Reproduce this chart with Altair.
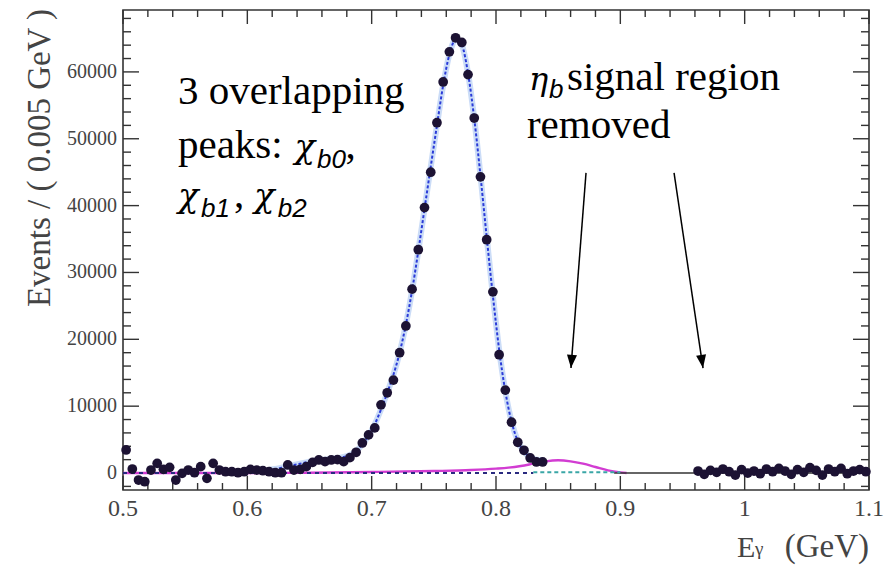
import altair as alt
import pandas as pd

# ---------------- data ----------------
bins_left = [round(0.5025 + 0.005 * i, 4) for i in range(68)]
counts_left = [3450, 600, -1050, -1300, 450, 1450, 550, 850, -1050, -50,
               450, 50, 950, -800, 1450, 450, 200, 200, 50, 200,
               550, 450, 350, 200, 50, 50, 1200, 450, 550, 950,
               1600, 1950, 1700, 1950, 2000, 1700, 2300, 3100, 4500, 5700,
               6750, 10200, 12000, 13900, 18000, 22000, 27500, 33400, 39700, 45000,
               52400, 58500, 63000, 65100, 64400, 59600, 53100, 44300, 34900, 27100,
               17700, 12400, 7600, 4600, 3400, 2250, 1650, 1650]
bins_right = [round(0.9625 + 0.005 * i, 4) for i in range(28)]
counts_right = [300, -200, 400, 100, 600, 200, -300, 500, 0, 300,
                -100, 600, 200, 700, 300, -200, 500, 100, 800, 400,
                -300, 600, 200, 700, -100, 300, 500, 200]

fit_x = [round(0.6175 + 0.005 * i, 4) for i in range(45)]
fit_y = [500, 600, 800, 1000, 1200, 1400, 1600, 1800, 1900, 2000,
         2100, 2200, 2400, 2700, 3300, 4300, 5600, 7300, 9500, 12000,
         14700, 18000, 22200, 27300, 33200, 39500, 45800, 52000, 58000, 62600,
         64800, 64000, 59800, 53000, 44500, 35300, 26500, 18500, 12200, 7700,
         4800, 3200, 2400, 2000, 1900]

mag_x = [0.50, 0.60, 0.65, 0.70, 0.75, 0.78, 0.80, 0.81, 0.82, 0.83,
         0.84, 0.85, 0.86, 0.87, 0.88, 0.89, 0.90, 0.905]
mag_y = [0, 0, 50, 150, 300, 450, 650, 800, 1050, 1400,
         1750, 1900, 1750, 1400, 900, 400, 100, 0]

bkg_x = [0.50, 0.83]
bkg_y = [0, 0]
cyan_x = [0.83, 0.90]
cyan_y = [100, 100]
base_x = [0.895, 1.10]
base_y = [0, 0]

x_major = [0.5, 0.6, 0.7, 0.8, 0.9, 1.0, 1.1]
x_minor = [round(0.5 + 0.02 * i, 2) for i in range(31) if i % 5]
y_major = [0, 10000, 20000, 30000, 40000, 50000, 60000]
y_minor = [v for v in range(-2000, 69001, 2000) if v % 10000]

# annotation anchors (data coordinates)
arrow_top = [(0.8724, 44900), (0.9432, 44900)]
arrow_tip = [(0.8603, 15700), (0.9665, 15700)]

serif_txt = [("3 overlapping", 0.5442, 55200), ("peaks:", 0.5442, 47100),
             ("signal region", 0.8571, 57300), ("removed", 0.8249, 50100),
             (",", 0.6790, 47100), (",", 0.5893, 39800)]
chi_txt = [("χ", 0.6380, 47100), ("χ", 0.6054, 39800), ("χ", 0.5442, 39800)]
sub_txt = [("b0", 0.6560, 45600), ("b1", 0.5627, 38300), ("b2", 0.6245, 38300),
           ("b", 0.8426, 56100)]
eta_txt = [("η", 0.8265, 57300)]

XMIN, XMAX = 0.5, 1.1
YMIN, YMAX = -2540, 69260
W, H = 746, 480

# ---------------- frames ----------------
pts = pd.DataFrame({"x": bins_left + bins_right, "y": counts_left + counts_right})
fit = pd.DataFrame({"x": fit_x, "y": fit_y})
mag = pd.DataFrame({"x": mag_x, "y": mag_y})
bkg = pd.DataFrame({"x": bkg_x, "y": bkg_y})
cyan = pd.DataFrame({"x": cyan_x, "y": cyan_y})
base = pd.DataFrame({"x": base_x, "y": base_y})

xmaj_df = pd.DataFrame({"v": x_major, "lab": [f"{v:g}" for v in x_major]})
xmin_df = pd.DataFrame({"v": x_minor})
ymaj_df = pd.DataFrame({"v": y_major, "lab": [str(v) for v in y_major]})
ymin_df = pd.DataFrame({"v": y_minor})

arrows = pd.DataFrame({
    "x": [a[0] for a in arrow_top], "y": [a[1] for a in arrow_top],
    "xe": [a[0] for a in arrow_tip], "ye": [a[1] for a in arrow_tip],
    "ang": [4.4, 351.5],
})

def tdf(lst):
    return pd.DataFrame(lst, columns=["t", "x", "y"])

# ---------------- encodings (all guides drawn as marks) ----------------
xsc = alt.Scale(domain=[XMIN, XMAX], nice=False, zero=False)
ysc = alt.Scale(domain=[YMIN, YMAX], nice=False, zero=False)

def X(f="x"):
    return alt.X(f"{f}:Q", scale=xsc, axis=None)

def Y(f="y"):
    return alt.Y(f"{f}:Q", scale=ysc, axis=None)

TC = "#333"
# inward ticks: position from the data scale, length in pixels from the frame edge
def vticks(df, L):
    bottom = alt.Chart(df).mark_rule(color=TC, strokeWidth=1.4).encode(
        x=X("v"), y=alt.value(H), y2=alt.value(H - L))
    top = alt.Chart(df).mark_rule(color=TC, strokeWidth=1.4).encode(
        x=X("v"), y=alt.value(0), y2=alt.value(L))
    return [bottom, top]

def hticks(df, L):
    left = alt.Chart(df).mark_rule(color=TC, strokeWidth=1.4).encode(
        y=Y("v"), x=alt.value(0), x2=alt.value(L))
    right = alt.Chart(df).mark_rule(color=TC, strokeWidth=1.4).encode(
        y=Y("v"), x=alt.value(W - L), x2=alt.value(W))
    return [left, right]

tick_layers = vticks(xmaj_df, 14) + vticks(xmin_df, 7) + hticks(ymaj_df, 16) + hticks(ymin_df, 8)

xlabels = alt.Chart(xmaj_df).mark_text(font="Liberation Serif", fontSize=24, color="#444",
                                       align="center", baseline="top").encode(
    x=X("v"), y=alt.value(H + 7), text="lab:N")
ylabels = alt.Chart(ymaj_df).mark_text(font="Liberation Serif", fontSize=20, color="#444",
                                       align="right", baseline="middle").encode(
    y=Y("v"), x=alt.value(-6), text="lab:N")

mag_layer = alt.Chart(mag).mark_line(color="#d23cd2", strokeWidth=2.4,
                                     interpolate="monotone").encode(x=X(), y=Y())
base_layer = alt.Chart(base).mark_line(color="#333", strokeWidth=1.5).encode(x=X(), y=Y())
bkg_layer = alt.Chart(bkg).mark_line(color="#2a2a80", strokeWidth=2, strokeDash=[4, 4]).encode(x=X(), y=Y())
cyan_layer = alt.Chart(cyan).mark_line(color="#3aa6a6", strokeWidth=2, strokeDash=[4, 3]).encode(x=X(), y=Y())
halo_layer = alt.Chart(fit).mark_line(color="#a9c4f2", strokeWidth=6, opacity=0.6,
                                      interpolate="monotone").encode(x=X(), y=Y())
fit_layer = alt.Chart(fit).mark_line(color="#2a3bd8", strokeWidth=2, strokeDash=[3, 2],
                                     interpolate="monotone").encode(x=X(), y=Y())
pt_layer = alt.Chart(pts).mark_circle(color="#1c1233", size=95, opacity=1).encode(x=X(), y=Y())

shaft = alt.Chart(arrows).mark_rule(color="black", strokeWidth=1.5).encode(
    x=X(), y=Y(), x2="xe:Q", y2="ye:Q")
head = alt.Chart(arrows).mark_point(shape="M0,0L-0.38,-1L0.38,-1Z", filled=True, size=700,
                                    color="black", opacity=1).encode(
    x=X("xe"), y=Y("ye"), angle=alt.Angle("ang:Q", scale=None))

def txt(lst, font, size, style="normal"):
    return alt.Chart(tdf(lst)).mark_text(font=font, fontSize=size, fontStyle=style,
                                         align="left", baseline="alphabetic",
                                         color="black").encode(x=X(), y=Y(), text="t:N")

serif_layer = txt(serif_txt, "Liberation Serif", 41)
chi_layer = txt(chi_txt, "DejaVu Serif", 34, "italic")
sub_layer = txt(sub_txt, "Liberation Sans", 26, "italic")
eta_layer = txt(eta_txt, "DejaVu Serif", 32, "italic")

# axis titles
ytitle = alt.Chart(pd.DataFrame({"t": ["Events / ( 0.005 GeV )"]})).mark_text(
    font="Liberation Serif", fontSize=33, angle=270, align="center", baseline="alphabetic",
    color="#444").encode(text="t:N", x=alt.value(-73), y=alt.value(148))
xt_e = alt.Chart(pd.DataFrame({"t": ["E"]})).mark_text(
    font="Liberation Serif", fontSize=30, align="left", baseline="alphabetic",
    color="#444").encode(text="t:N", x=alt.value(614), y=alt.value(547))
xt_g = alt.Chart(pd.DataFrame({"t": ["γ"]})).mark_text(
    font="Liberation Serif", fontSize=19, align="left", baseline="alphabetic",
    color="#444").encode(text="t:N", x=alt.value(632), y=alt.value(545))
xt_u = alt.Chart(pd.DataFrame({"t": ["(GeV)"]})).mark_text(
    font="Liberation Serif", fontSize=33, align="right", baseline="alphabetic",
    color="#444").encode(text="t:N", x=alt.value(746), y=alt.value(547))

chart = alt.layer(
    *tick_layers, xlabels, ylabels,
    mag_layer, base_layer, bkg_layer, cyan_layer,
    halo_layer, fit_layer, pt_layer, shaft, head,
    serif_layer, chi_layer, sub_layer, eta_layer,
    ytitle, xt_e, xt_g, xt_u,
).properties(
    width=W, height=H,
    padding={"left": 123, "top": 10, "right": 18, "bottom": 77},
    autosize=alt.AutoSizeParams(type="none"),
    background="white",
).configure_view(stroke="#333", strokeWidth=1.6)

chart.save("out.html", embed_options={"renderer": "svg", "actions": False})
